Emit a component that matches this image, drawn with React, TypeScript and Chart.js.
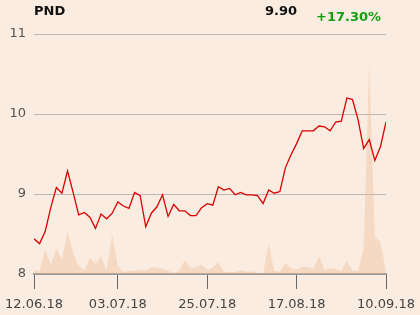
import React, { useEffect, useRef } from "react";
import { Chart, registerables } from "chart.js";

Chart.register(...registerables);

const dates: string[] = [
  "12.06.18", "13.06.18", "14.06.18", "15.06.18", "18.06.18", "19.06.18", "20.06.18", "21.06.18",
  "22.06.18", "25.06.18", "26.06.18", "27.06.18", "28.06.18", "29.06.18",
  "02.07.18", "03.07.18", "04.07.18", "05.07.18", "06.07.18", "09.07.18", "10.07.18", "11.07.18",
  "12.07.18", "13.07.18", "16.07.18", "17.07.18", "18.07.18", "19.07.18", "20.07.18", "23.07.18",
  "24.07.18", "25.07.18", "26.07.18", "27.07.18", "30.07.18", "31.07.18",
  "01.08.18", "02.08.18", "03.08.18", "06.08.18", "07.08.18", "08.08.18", "09.08.18", "10.08.18",
  "13.08.18", "14.08.18", "16.08.18", "17.08.18", "20.08.18", "21.08.18", "22.08.18", "23.08.18",
  "24.08.18", "27.08.18", "28.08.18", "29.08.18", "30.08.18", "31.08.18",
  "03.09.18", "04.09.18", "05.09.18", "06.09.18", "07.09.18", "10.09.18",
];

const prices: number[] = [
  8.44, 8.38, 8.53, 8.83, 9.08, 9.01, 9.29, 9.02, 8.74, 8.77, 8.71, 8.57, 8.75, 8.69, 8.76, 8.9,
  8.85, 8.82, 9.02, 8.98, 8.59, 8.76, 8.84, 8.99, 8.72, 8.87, 8.79, 8.79, 8.73, 8.73, 8.83, 8.88,
  8.86, 9.09, 9.05, 9.07, 8.99, 9.02, 8.99, 8.99, 8.98, 8.88, 9.05, 9.01, 9.03, 9.33, 9.49, 9.63,
  9.79, 9.79, 9.79, 9.85, 9.84, 9.79, 9.9, 9.91, 10.2, 10.18, 9.93, 9.57, 9.68, 9.42, 9.59, 9.9,
];

const volumes: number[] = [
  4300, 2700, 25000, 9300, 25700, 14300, 42700, 21700, 7700, 4000, 16000, 10700, 17700, 4000, 40000, 8300,
  1700, 3300, 3300, 4000, 3300, 6700, 6500, 5000, 3300, 1000, 3300, 14000, 5700, 6700, 9300, 4000,
  6700, 11700, 1700, 2300, 1700, 4000, 2300, 2700, 1000, 700, 31000, 3000, 2300, 10700, 5700, 4300,
  7300, 7300, 5000, 17700, 4000, 6000, 5000, 3300, 13000, 3300, 3300, 25000, 211000, 36700, 32300, 3300,
];

const tickDates: string[] = ["12.06.18", "03.07.18", "25.07.18", "17.08.18", "10.09.18"];
const yTicks: number[] = [8, 9, 10, 11];

const ticker = "PND";
const lastPrice = "9.90";
const change = "+17.30%";

const BG = "#FAECE0";
const FONT = "'DejaVu Sans', sans-serif";

export default function App() {
  const ref = useRef<HTMLCanvasElement | null>(null);

  useEffect(() => {
    if (!ref.current) return;
    const tickIdx = tickDates.map((d) => dates.indexOf(d));
    const chart = new Chart(ref.current, {
      type: "line",
      data: {
        datasets: [
          {
            label: "Kurs",
            data: prices.map((y, i) => ({ x: i, y })),
            borderColor: "#d80000",
            borderWidth: 1.3,
            pointRadius: 0,
            tension: 0,
            fill: false,
            yAxisID: "y",
            order: 0,
          },
          {
            label: "Wolumen",
            data: volumes.map((y, i) => ({ x: i, y })),
            borderWidth: 0,
            borderColor: "rgba(0,0,0,0)",
            backgroundColor: "rgba(240,190,150,0.4)",
            pointRadius: 0,
            tension: 0,
            fill: "origin",
            yAxisID: "y1",
            order: 1,
          },
        ],
      },
      options: {
        responsive: false,
        animation: false,
        layout: { padding: { left: 0, right: 34, top: 34, bottom: 0 } },
        plugins: { legend: { display: false }, tooltip: { enabled: false } },
        scales: {
          x: {
            type: "linear",
            min: 0,
            max: dates.length - 1,
            afterBuildTicks: (scale: any) => {
              scale.ticks = tickIdx.map((v) => ({ value: v }));
            },
            afterFit: (scale: any) => {
              scale.height = 41;
              scale.paddingLeft = 0;
              scale.paddingRight = 0;
            },
            ticks: {
              autoSkip: false,
              maxRotation: 0,
              minRotation: 0,
              padding: 8,
              color: "#444",
              font: { family: FONT, size: 13 },
              callback: (v: any) => dates[Number(v)] ?? "",
            },
            grid: {
              drawOnChartArea: false,
              drawTicks: true,
              tickLength: 15,
              color: "#666",
              lineWidth: 1,
            },
            border: { display: true, color: "#9a9a9a", width: 2 },
          },
          y: {
            type: "linear",
            min: 8,
            max: 11,
            afterBuildTicks: (scale: any) => {
              scale.ticks = yTicks.map((v) => ({ value: v }));
            },
            afterFit: (scale: any) => {
              scale.width = 34;
            },
            ticks: {
              padding: 8,
              color: "#555",
              font: { family: FONT, size: 13 },
            },
            grid: { color: "#b8b8b8", lineWidth: 1, drawTicks: false },
            border: { display: false },
          },
          y1: {
            type: "linear",
            display: false,
            min: 0,
            max: 240000,
          },
        },
      },
    });
    return () => chart.destroy();
  }, []);

  const text: React.CSSProperties = {
    position: "absolute",
    fontFamily: FONT,
    fontWeight: "bold",
    fontSize: 13,
    lineHeight: "13px",
    whiteSpace: "nowrap",
  };

  return (
    <div
      style={{
        position: "fixed",
        left: 0,
        top: 0,
        width: 420,
        height: 315,
        background: BG,
        overflow: "hidden",
      }}
    >
      <canvas ref={ref} width={420} height={315} style={{ position: "absolute", left: 0, top: 0 }} />
      <div style={{ ...text, left: 34, top: 4, color: "#111" }}>{ticker}</div>
      <div style={{ ...text, left: 265, top: 4, color: "#111" }}>{lastPrice}</div>
      <div style={{ ...text, left: 316, top: 10, color: "#12a012" }}>{change}</div>
    </div>
  );
}
